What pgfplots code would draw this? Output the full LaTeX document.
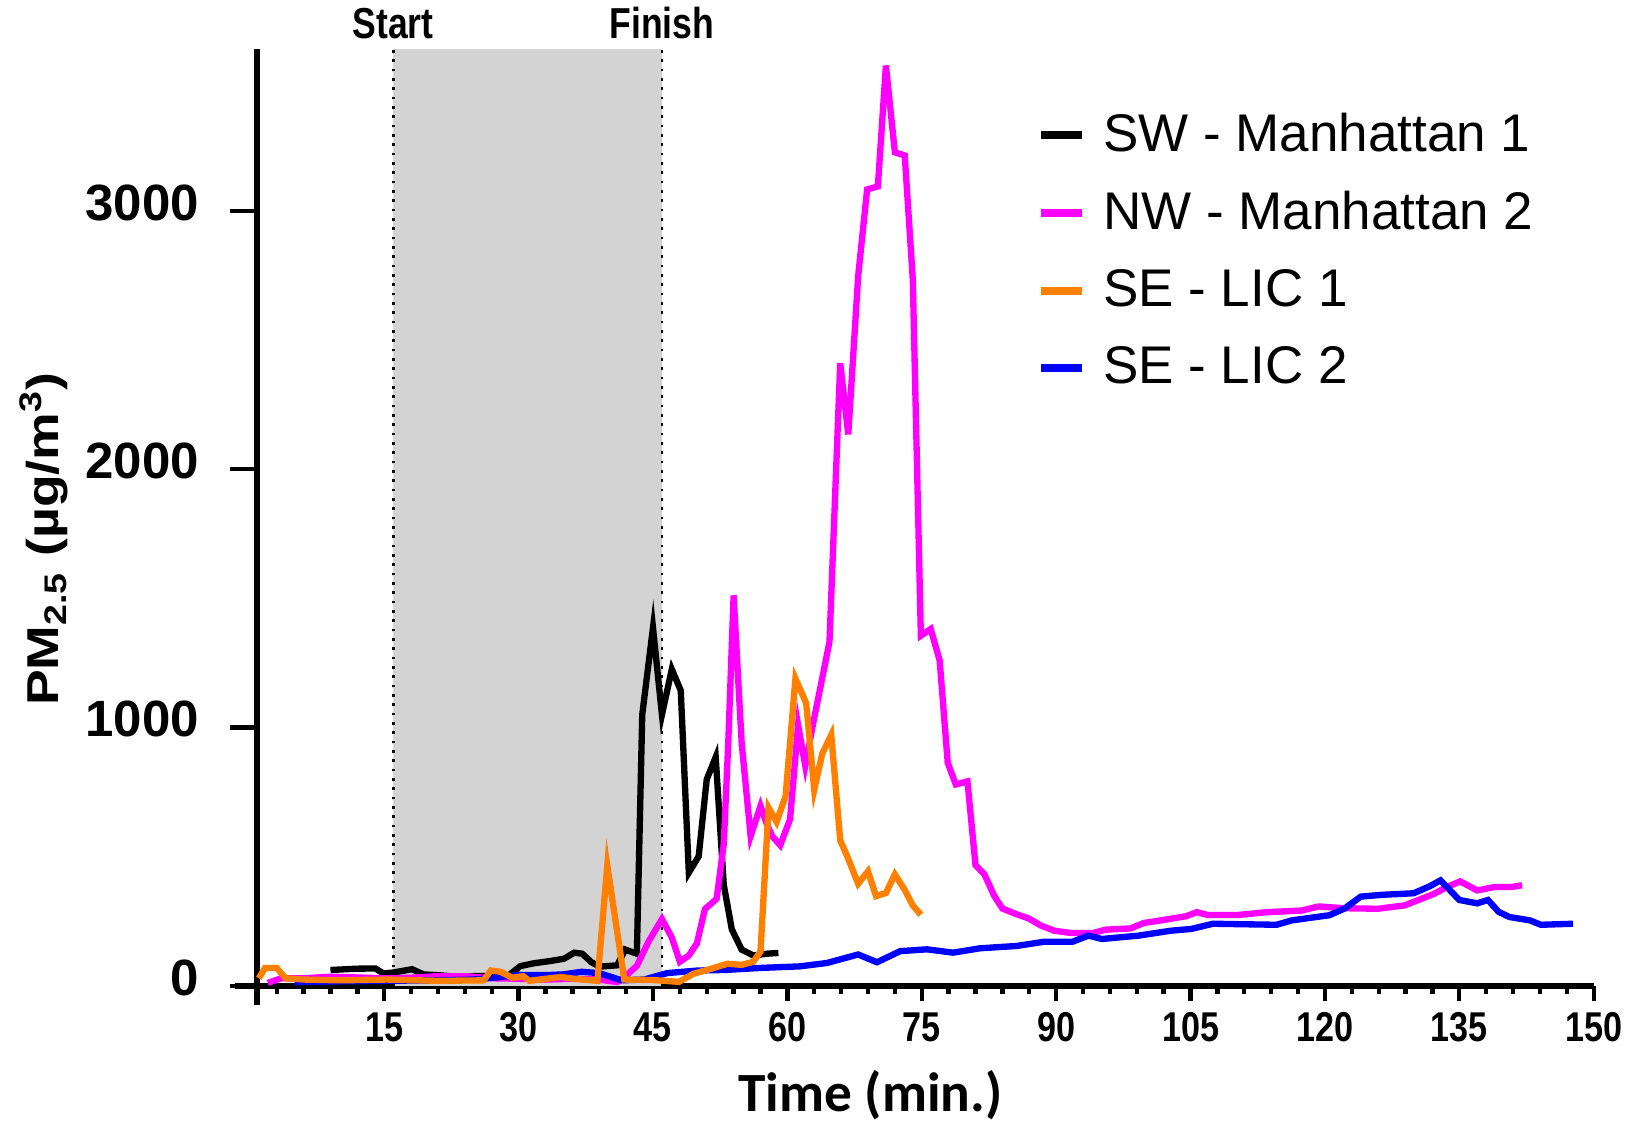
\documentclass[border=0pt]{standalone}
\usepackage{fontspec}
\setmainfont{Liberation Sans}
\newfontfamily\narrowfont[FakeStretch=0.82]{Liberation Sans}
\newfontfamily\widefont[FakeStretch=1.2]{Liberation Sans}
\newfontfamily\calibrifont{Carlito}
\usepackage{pgfplots}
\pgfplotsset{compat=1.18}
\definecolor{pinkline}{RGB}{255,0,255}
\definecolor{orangeline}{RGB}{255,127,0}
\definecolor{blueline}{RGB}{0,0,255}
\definecolor{shade}{RGB}{211,211,211}

\begin{document}
\begin{tikzpicture}
\useasboundingbox (-77.1pt,-41.7pt) rectangle (411.9pt,295.8pt);
\begin{axis}[
  scale only axis, width=401pt, height=281.1pt,
  xmin=0.8, xmax=150, ymin=0, ymax=3627,
  axis x line=bottom, axis y line=left,
  axis line style={line width=2pt,-},
  clip=false,
  xtick={15,30,...,150},
  minor xtick={3,6,9,12,18,21,24,27,33,36,39,42,48,51,54,57,63,66,69,72,78,81,84,87,93,96,99,102,108,111,114,117,123,126,129,132,138,141,144,147},
  ytick={0,1000,2000,3000},
  tick align=outside,
  major tick length=4.5pt, minor tick length=2.5pt,
  ytick style={/pgfplots/major tick length=8pt},
  tick style={black,line width=1.3pt},
  /pgf/number format/assume math mode=true,
  /pgf/number format/1000 sep={},
  xticklabel style={font=\narrowfont\bfseries\fontsize{12.5}{12.5}\selectfont},
  yticklabel style={font=\bfseries\fontsize{15.3}{15.3}\selectfont, xshift=-9.4pt, yshift=2.5pt},
  xlabel={Time (min.)},
  xlabel style={font=\calibrifont\bfseries\fontsize{16.6}{16.6}\selectfont,
    at={(rel axis cs:0.459,0)}, anchor=center, yshift=-32.8pt},
  ylabel={PM\textsubscript{2.5} (µg/m\textsuperscript{3})},
  ylabel style={font=\widefont\bfseries\fontsize{13.4}{13.4}\selectfont,
    at={(rel axis cs:0,0.477)}, anchor=center, yshift=63.9pt},
  legend style={draw=none, fill=none, inner sep=0pt, row sep=6.5pt,
    at={(rel axis cs:0.5827,0.9395)}, anchor=north west,
    font=\fontsize{15.9}{15.9}\selectfont},
  legend cell align=left,
  legend image code/.code={\path[draw=none,fill=none] (0pt,-1pt) rectangle (16.8pt,1pt);
    \draw[#1,line width=2.4pt] (0pt,0pt) -- (12.5pt,0pt);},
]
\addlegendimage{black}
\addlegendentry{SW - Manhattan 1}
\addlegendimage{pinkline}
\addlegendentry{NW - Manhattan 2}
\addlegendimage{orangeline}
\addlegendentry{SE - LIC 1}
\addlegendimage{blueline}
\addlegendentry{SE - LIC 2}

% exposure window
\addplot[fill=shade, draw=none, forget plot] coordinates {(16,3627) (46,3627)} \closedcycle;
\addplot[black, dotted, line width=0.8pt, forget plot] coordinates {(16,0) (16,3627)};
\addplot[black, dotted, line width=0.8pt, forget plot] coordinates {(46,0) (46,3627)};

% SW - Manhattan 1
\addplot[black, line width=1.9pt, forget plot] coordinates {
(9,62)(11.9,67)(14,68)(14.9,49)(16,52)(18.1,65)(19.4,45)(21.3,41)(23.1,36)(25.7,39)
(28.7,36)(30.2,77)(31.7,88)(33.6,97)(35.1,106)(36.2,129)(37.1,125)(38.1,93)(39,75)(41,80)
(41.9,141)(43.2,125)(43.8,1050)(45,1387)(46,1050)(47.1,1226)(48.1,1144)(49,439)(50.1,502)
(51,800)(52,886)(52.9,392)(53.8,219)(54.9,141)(56.2,118)(57.7,125)(59,128)};

% NW - Manhattan 2
\addplot[pinkline, line width=1.9pt, forget plot] coordinates {
(2,12)(3.5,30)(6,30)(9,36)(12,33)(15,30)(18,32)(21,38)(24,38)(27,30)(30,28)(33,25)(36,28)
(39,25)(41,15)(41.7,31)(43.2,78)(44.5,172)(46,259)(47.1,188)(48,94)(49,118)(49.9,165)
(50.8,298)(52.1,337)(52.9,549)(53.4,940)(54,1512)(54.9,940)(55.9,580)(57,697)(57.7,627)
(58.3,580)(59.2,545)(60.3,645)(61.2,1010)(62,852)(62.9,1020)(64.7,1332)(65.9,2411)
(66.8,2135)(67.9,2747)(68.9,3083)(70.1,3095)(71,3563)(72,3227)(73.1,3215)(74,2735)
(74.9,1356)(76,1382)(77,1260)(77.9,864)(78.8,780)(80.1,792)(81,468)(82,432)(83.1,348)
(84,300)(85.5,279)(86.9,262)(88.3,234)(89.8,214)(91.7,205)(94.1,205)(95.5,218)(98.3,223)
(99.8,244)(102.2,257)(104.5,270)(105.7,286)(106.9,275)(110.3,275)(113.6,286)(117.4,292)
(119.3,308)(122.2,301)(125.9,299)(128.9,312)(130.3,331)(132.2,357)(133.6,383)(135.1,405)
(137,370)(138.9,383)(140.8,383)(142,390)};

% SE - LIC 2
\addplot[blueline, line width=1.9pt, forget plot] coordinates {
(5,15)(10,18)(15,20)(20,22)(25,25)(28,35)(30,43)(33,42)(35,45)(37,55)(39,50)(41.5,22)
(44,25)(46.6,50)(50,60)(53,62)(57,70)(61.4,76)(64.4,89)(67.9,122)(70,92)(72.6,135)
(75.6,142)(78.5,129)(81.5,146)(85.6,155)(88.6,171)(91.8,171)(93.6,195)(95.1,182)(99.2,195)
(102.8,214)(105.1,221)(107.5,241)(114.6,237)(116.3,254)(120.5,274)(122.2,300)(124,346)
(126.4,353)(129.9,359)(131.7,386)(132.9,409)(135,333)(137,320)(138.2,333)(139.4,287)
(140.6,267)(142.9,254)(144.1,237)(147.7,241)};

% SE - LIC 1
\addplot[orangeline, line width=1.9pt, forget plot] coordinates {
(1,30)(1.7,70)(3,70)(4,30)(6,25)(10,22)(15.3,25)(21.3,20)(26.1,22)(26.9,60)(28,55)
(29.3,32)(30.5,38)(31.2,20)(34.7,35)(36.2,28)(38.8,20)(39.9,466)(41.8,25)(45.1,23)
(47.9,16)(49.5,47)(51.4,66)(53.3,86)(54.9,82)(56.2,94)(57,133)(57.9,690)(58.8,635)
(59.8,735)(60.9,1190)(62.1,1095)(63,760)(63.9,900)(64.9,972)(65.9,564)(66.8,492)
(67.9,396)(69,444)(69.9,348)(71,360)(72,432)(73.1,372)(74,312)(74.9,276)};

% axis overhangs and window labels
\draw[line width=2pt] (axis cs:-1.6,0) -- (axis cs:0.8,0);
\draw[line width=2pt] (axis cs:0.8,0) -- (axis cs:0.8,-75);
\node[font=\narrowfont\bfseries\fontsize{13}{13}\selectfont, anchor=base, yshift=3.2pt]
  at (axis cs:16,3627) {Start};
\node[font=\narrowfont\bfseries\fontsize{13}{13}\selectfont, anchor=base, yshift=3.2pt]
  at (axis cs:46,3627) {Finish};
\end{axis}
\end{tikzpicture}
\end{document}
